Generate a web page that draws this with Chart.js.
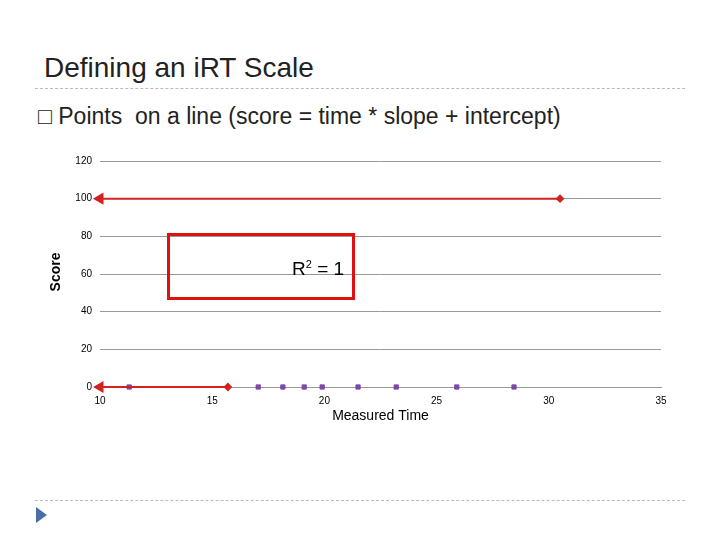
<!DOCTYPE html>
<html><head>
<script src="https://cdn.jsdelivr.net/npm/chart.js@4"></script>
<style>
body{margin:0;width:720px;height:540px;background:#fff;position:relative;overflow:hidden;font-family:"Liberation Sans",Arial,sans-serif}
#c{position:absolute;left:0;top:0}
.t{position:absolute;color:#222}
.hr{position:absolute;left:35px;width:650px;border-top:1px dashed #bbb}
</style>
</head><body>
<div class="t" style="left:44px;top:52px;font-size:28px">Defining an iRT Scale</div>
<div class="hr" style="top:88px"></div>
<div class="t" style="left:38px;top:103px;font-size:23px">&#9633; Points&nbsp; on a line (score = time * slope + intercept)</div>
<div class="hr" style="top:500px"></div>
<div style="position:absolute;left:36px;top:507px;width:0;height:0;border-top:8px solid transparent;border-bottom:8px solid transparent;border-left:11px solid #4a6ea8"></div>
<canvas id="c" width="720" height="540"></canvas>
<div style="position:absolute;left:167px;top:233px;width:182px;height:61px;border:3px solid #e01010"></div>
<div class="t" style="left:292px;top:258px;font-size:19px;color:#000">R<sup style="font-size:11px">2</sup> = 1</div>
<div class="t" style="left:36px;top:264px;font-size:14px;font-weight:bold;color:#000;transform:rotate(-90deg)">Score</div>
<script>
const topLineX = [10, 30.5];
const topLineY = [100, 100];
const lowLineX = [10, 15.7];
const lowLineY = [0, 0];
const measuredTimes = [11.3, 17.05, 18.15, 19.1, 19.9, 21.5, 23.2, 25.9, 28.45];
const measuredScores = [0, 0, 0, 0, 0, 0, 0, 0, 0];
const xTicks = [10, 15, 20, 25, 30, 35];

const pts = (xs, ys) => xs.map((x, i) => ({x: x, y: ys[i]}));

new Chart(document.getElementById("c"), {
  type: "scatter",
  data: {
    datasets: [{
      data: pts(topLineX, topLineY), showLine: true, borderColor: "#d42020", borderWidth: 2, clip: false,
      pointStyle: ["triangle", "rectRot"], rotation: [-90, 0], pointRadius: [5, 3],
      pointBackgroundColor: "#d42020", pointBorderColor: "#d42020"
    }, {
      data: pts(lowLineX, lowLineY), showLine: true, borderColor: "#d42020", borderWidth: 2, clip: false,
      pointStyle: ["triangle", "rectRot"], rotation: [-90, 0], pointRadius: [5, 3],
      pointBackgroundColor: "#d42020", pointBorderColor: "#d42020"
    }, {
      data: pts(measuredTimes, measuredScores), pointStyle: "rect", pointRadius: 3, clip: false,
      pointBackgroundColor: "#7a4aa8", pointBorderColor: "#7a4aa8"
    }]
  },
  options: {
    animation: false, responsive: false,
    layout: {padding: {left: 0, top: 161, right: 59, bottom: 113}},
    plugins: {legend: {display: false}, tooltip: {enabled: false}},
    scales: {
      x: {
        min: 10, max: 35,
        afterBuildTicks: a => { a.ticks = xTicks.map(v => ({value: v})); },
        afterFit: a => { a.height = 40; },
        grid: {display: false}, border: {color: "#999"},
        ticks: {font: {size: 10}, color: "#000", padding: 0},
        title: {display: true, text: "Measured Time", font: {size: 14}, color: "#000", padding: 2}
      },
      y: {
        min: 0, max: 120,
        afterFit: a => { a.width = 100; },
        grid: {color: "#999", drawTicks: false}, border: {display: false},
        ticks: {stepSize: 20, font: {size: 10}, color: "#000", padding: 8}
      }
    }
  }
});
</script>
</body></html>
